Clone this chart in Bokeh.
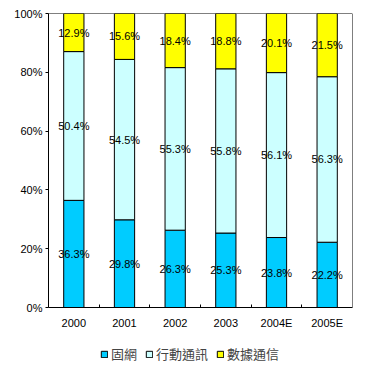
import numpy as np
from bokeh.plotting import figure
from bokeh.models import Range1d, FixedTicker, Legend, LegendItem, ColumnDataSource
from bokeh.core.properties import value
from bokeh.embed import file_html
from bokeh.resources import INLINE

years = ["2000", "2001", "2002", "2003", "2004E", "2005E"]
fixed = [36.3, 29.8, 26.3, 25.3, 23.8, 22.2]
mobile = [50.4, 54.5, 55.3, 55.8, 56.1, 56.3]
data = [12.9, 15.6, 18.4, 18.8, 20.1, 21.5]
series_names = ["固網", "行動通訊", "數據通信"]
colors = ["#00CCFF", "#CCFFFF", "#FFFF00"]
y_ticks = [0, 20, 40, 60, 80, 100]

x = np.arange(len(years)) + 0.5
raw = np.array([fixed, mobile, data], dtype=float)
tot = raw.sum(axis=0)
norm = raw / tot * 100.0
bottoms = np.vstack([np.zeros(len(years)), np.cumsum(norm, axis=0)[:-1]])
tops = bottoms + norm

# frame extends below 0 to hold axis labels and legend (294 px per 100 %)
extra_px = 57
y0 = -extra_px / 294 * 100
p = figure(frame_width=304, frame_height=294 + extra_px, output_backend="svg",
           toolbar_location=None,
           x_range=Range1d(0, len(years)), y_range=Range1d(y0, 100))
p.min_border_left = 48
p.min_border_right = 14
p.min_border_top = 13
p.min_border_bottom = 0
p.outline_line_color = None
p.xgrid.visible = False
p.ygrid.visible = False
p.background_fill_color = "white"

# plot-area box
p.quad(left=[0], right=[len(years)], bottom=[0], top=[100],
       fill_color=None, line_color="black", line_width=1)

renderers = []
for i in range(3):
    src = ColumnDataSource(dict(x=x, top=tops[i], bottom=bottoms[i]))
    r = p.vbar(x="x", top="top", bottom="bottom", width=0.4, source=src,
               fill_color=colors[i], line_color="black", line_width=1)
    renderers.append(r)
    mids = (tops[i] + bottoms[i]) / 2
    labels = ["%.1f%%" % v for v in raw[i]]
    p.text(x=x, y=mids, text=labels, text_align="center", text_baseline="middle",
           text_font=value("Liberation Sans"), text_font_size="11px", text_color="black")

xa = p.xaxis[0]
xa.fixed_location = 0
xa.ticker = FixedTicker(ticks=list(x), minor_ticks=list(range(1, len(years))))
xa.major_label_overrides = {float(v): years[i] for i, v in enumerate(x)}
xa.major_tick_in = 0
xa.major_tick_out = 0
xa.minor_tick_in = 3
xa.minor_tick_out = 0
xa.major_label_standoff = 9
xa.major_label_text_font = "Liberation Sans"
xa.major_label_text_font_size = "11px"
xa.major_label_text_color = "black"
xa.axis_line_color = "black"

ya = p.yaxis[0]
ya.bounds = (0, 100)
ya.ticker = FixedTicker(ticks=y_ticks)
ya.major_label_overrides = {v: "%d%%" % v for v in y_ticks}
ya.major_tick_in = 0
ya.major_tick_out = 3
ya.minor_tick_line_color = None
ya.major_label_standoff = 3
ya.major_label_text_font = "Liberation Sans"
ya.major_label_text_font_size = "11px"
ya.major_label_text_color = "black"
ya.axis_line_color = "black"

legend = Legend(items=[LegendItem(label=series_names[i], renderers=[renderers[i]]) for i in range(3)],
                orientation="horizontal", location=(52, 1))
legend.label_text_font = "Noto Sans CJK TC"
legend.label_text_font_size = "13px"
legend.glyph_width = 8
legend.glyph_height = 8
legend.label_standoff = 3
legend.spacing = 8
legend.padding = 1
legend.margin = 0
legend.border_line_color = None
legend.background_fill_alpha = 0
p.add_layout(legend, "center")

open("out.html", "w").write(file_html(p, INLINE))
